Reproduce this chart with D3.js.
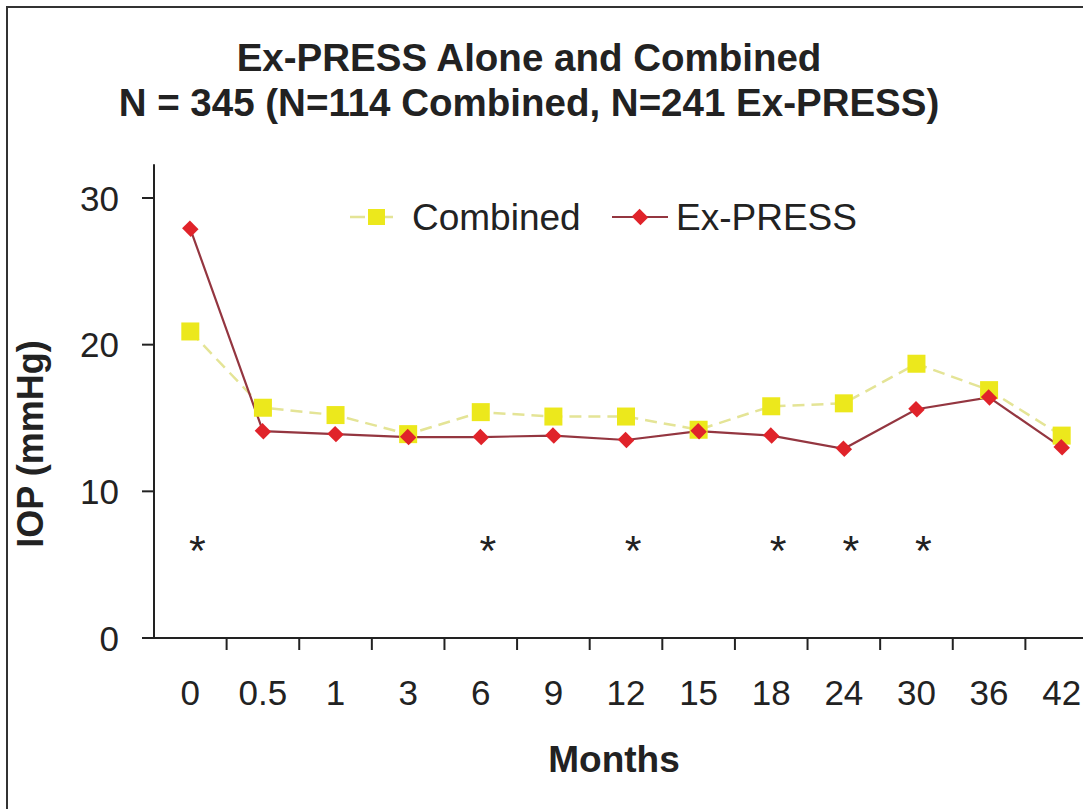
<!DOCTYPE html>
<html>
<head>
<meta charset="utf-8">
<script src="https://cdn.jsdelivr.net/npm/d3@7"></script>
<style>
  body { margin: 0; background: #fff; }
  text { font-family: "Liberation Sans", Arial, Helvetica, sans-serif; fill: #222; }
</style>
</head>
<body>
<div id="chart"></div>
<script>
// data
var months = ["0", "0.5", "1", "3", "6", "9", "12", "15", "18", "24", "30", "36", "42"];
var combined = [20.9, 15.7, 15.2, 13.9, 15.4, 15.1, 15.1, 14.2, 15.8, 16.0, 18.7, 16.9, 13.8];
var express = [27.9, 14.1, 13.9, 13.7, 13.7, 13.8, 13.5, 14.1, 13.8, 12.9, 15.6, 16.4, 13.0];
var starMonths = ["0", "6", "12", "18", "24", "30"];
var starLevel = 6.7;
var yTicks = [0, 10, 20, 30];

var W = 1083, H = 809;
var svg = d3.select("#chart").append("svg")
    .attr("width", W)
    .attr("height", H);

// frame (top and left edge only show in the picture)
svg.append("rect")
    .attr("x", 7).attr("y", 7)
    .attr("width", W + 20).attr("height", H + 20)
    .attr("fill", "none")
    .attr("stroke", "#333")
    .attr("stroke-width", 2);

var x = d3.scaleBand()
    .domain(months)
    .range([154, 1098]);

var y = d3.scaleLinear()
    .domain([0, 30])
    .range([638, 198]);

var yTop = y(32.3);

// y axis
var yAxis = svg.append("g");
yAxis.append("line")
    .attr("x1", 154).attr("x2", 154)
    .attr("y1", yTop).attr("y2", y(0))
    .attr("stroke", "#222").attr("stroke-width", 2);
yAxis.selectAll(".ytick")
    .data(yTicks)
    .enter()
        .append("line")
        .attr("x1", 142).attr("x2", 154)
        .attr("y1", function(d){ return y(d); })
        .attr("y2", function(d){ return y(d); })
        .attr("stroke", "#222").attr("stroke-width", 2);
yAxis.selectAll(".ylab")
    .data(yTicks)
    .enter()
        .append("text")
        .attr("x", 119)
        .attr("y", function(d){ return y(d); })
        .attr("dy", "0.36em")
        .attr("text-anchor", "end")
        .style("font-size", "35px")
        .text(function(d){ return d; });

// x axis, ticks sit on the band edges
var xAxis = svg.append("g");
xAxis.append("line")
    .attr("x1", 154).attr("x2", 1098)
    .attr("y1", y(0)).attr("y2", y(0))
    .attr("stroke", "#222").attr("stroke-width", 2);
xAxis.selectAll(".xtick")
    .data(months.slice(1))
    .enter()
        .append("line")
        .attr("x1", function(d){ return x(d); })
        .attr("x2", function(d){ return x(d); })
        .attr("y1", y(0)).attr("y2", y(0) + 12)
        .attr("stroke", "#222").attr("stroke-width", 2);
xAxis.selectAll(".xlab")
    .data(months)
    .enter()
        .append("text")
        .attr("x", function(d){ return x(d) + x.bandwidth() / 2; })
        .attr("y", 705)
        .attr("text-anchor", "middle")
        .style("font-size", "35px")
        .text(function(d){ return d; });

// titles
svg.append("text")
    .attr("x", 529).attr("y", 71)
    .attr("text-anchor", "middle")
    .style("font-size", "38.5px").style("font-weight", "bold")
    .text("Ex-PRESS Alone and Combined");
svg.append("text")
    .attr("x", 529).attr("y", 116)
    .attr("text-anchor", "middle")
    .style("font-size", "38.5px").style("font-weight", "bold")
    .text("N = 345 (N=114 Combined, N=241 Ex-PRESS)");
svg.append("text")
    .attr("transform", "translate(43,444) rotate(-90)")
    .attr("text-anchor", "middle")
    .style("font-size", "36px").style("font-weight", "bold")
    .text("IOP (mmHg)");
svg.append("text")
    .attr("x", 614).attr("y", 772)
    .attr("text-anchor", "middle")
    .style("font-size", "37px").style("font-weight", "bold")
    .text("Months");

var cx = function(d, i){ return x(months[i]) + x.bandwidth() / 2; };

// combined: dashed yellow with squares
var lineC = d3.line()
    .x(function(d, i){ return cx(d, i); })
    .y(function(d){ return y(d); });
svg.append("path")
    .attr("d", lineC(combined))
    .attr("fill", "none")
    .attr("stroke", "#e4e496")
    .attr("stroke-width", 2.5)
    .attr("stroke-dasharray", "12,7");

// ex-press: red solid line
svg.append("path")
    .attr("d", lineC(express))
    .attr("fill", "none")
    .attr("stroke", "#943640")
    .attr("stroke-width", 2.2);

svg.selectAll(".sq")
    .data(combined)
    .enter()
        .append("rect")
        .attr("x", function(d, i){ return cx(d, i) - 9; })
        .attr("y", function(d){ return y(d) - 9; })
        .attr("width", 18).attr("height", 18)
        .attr("fill", "#ece81c");

var diamond = d3.symbol().type(d3.symbolSquare).size(150);
svg.selectAll(".dm")
    .data(express)
    .enter()
        .append("path")
        .attr("d", diamond)
        .attr("transform", function(d, i){
            return "translate(" + cx(d, i) + "," + y(d) + ") rotate(45) scale(1,0.9)";
        })
        .attr("fill", "#e0232a");

// significance stars
svg.selectAll(".star")
    .data(starMonths)
    .enter()
        .append("text")
        .attr("x", function(d){ return x(d) + x.bandwidth() / 2 + 7; })
        .attr("y", y(starLevel) + 25)
        .attr("text-anchor", "middle")
        .style("font-size", "43px")
        .text("*");

// legend
var leg = svg.append("g");
leg.append("line")
    .attr("x1", 350).attr("x2", 403)
    .attr("y1", 217).attr("y2", 217)
    .attr("stroke", "#e4e496").attr("stroke-width", 2.5)
    .attr("stroke-dasharray", "15,13");
leg.append("rect")
    .attr("x", 368).attr("y", 209)
    .attr("width", 17).attr("height", 16)
    .attr("fill", "#ece81c");
leg.append("text")
    .attr("x", 412).attr("y", 230)
    .style("font-size", "37px")
    .text("Combined");
leg.append("line")
    .attr("x1", 612).attr("x2", 668)
    .attr("y1", 217).attr("y2", 217)
    .attr("stroke", "#943640").attr("stroke-width", 2.2);
leg.append("path")
    .attr("d", diamond)
    .attr("transform", "translate(640,217) rotate(45) scale(1,0.9)")
    .attr("fill", "#e0232a");
leg.append("text")
    .attr("x", 676).attr("y", 230)
    .style("font-size", "37px")
    .text("Ex-PRESS");
</script>
</body>
</html>
